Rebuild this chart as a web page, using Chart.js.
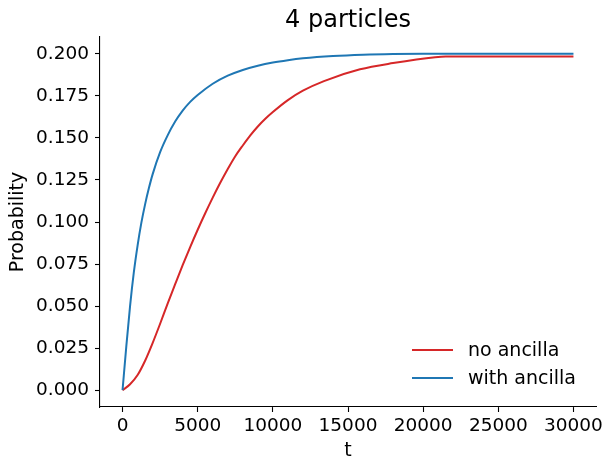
<html>
<head>
    <title>4 particles</title>
    <style>
        body { margin: 0; background: #fff; }
        #wrap { width: 614px; height: 470px; }
    </style>
</head>
<body>

<script src="https://cdn.jsdelivr.net/npm/chart.js@4.4.1/dist/chart.umd.min.js"></script>

<div id="wrap"><canvas id="particles"></canvas></div>

<script>
    // values
    const t_no_ancilla = [0, 500, 1000, 1500, 2000, 2500, 3000, 3500, 4000, 4500, 5000, 5500, 6000, 6500,
        7000, 7500, 8000, 8500, 9000, 9500, 10000, 11000, 12000, 13400, 15800, 18000, 20800, 21500, 30000];
    const p_no_ancilla = [0, 0.0035, 0.009, 0.0175, 0.028, 0.0395, 0.0515, 0.063, 0.0743, 0.0851, 0.0954, 0.1052, 0.1145, 0.1233,
        0.1315, 0.1391, 0.1455, 0.1515, 0.1568, 0.1614, 0.1654, 0.1725, 0.1781, 0.1838, 0.1908, 0.1945, 0.198, 0.1984, 0.1984];

    const t_with_ancilla = [0, 250, 500, 750, 1000, 1250, 1500, 1750, 2000, 2500, 3000, 3500, 4000, 4500,
        5000, 6000, 7000, 8000, 9000, 10000, 11000, 12000, 14000, 16000, 18000, 20000, 30000];
    const p_with_ancilla = [0, 0.026, 0.050, 0.070, 0.086, 0.0995, 0.1105, 0.120, 0.1283, 0.1415, 0.1515, 0.1597, 0.1662, 0.1714,
        0.1755, 0.1822, 0.187, 0.1904, 0.1929, 0.1948, 0.1962, 0.1973, 0.1987, 0.1995, 0.1999, 0.2, 0.2];

    const x_ticks = [0, 5000, 10000, 15000, 20000, 25000, 30000];
    const y_ticks = [0, 0.025, 0.05, 0.075, 0.1, 0.125, 0.15, 0.175, 0.2];

    const FONT = "'DejaVu Sans', sans-serif";

    function pairs(xs, ys) {
        return xs.map((x, i) => ({x: x, y: ys[i]}));
    }

    // matplotlib style legend, bottom right, no frame
    const legend_plugin = {
        id: 'mpl_legend',
        afterDraw(chart) {
            const ctx = chart.ctx;
            const area = chart.chartArea;
            const sets = chart.data.datasets;
            ctx.save();
            ctx.font = '19px ' + FONT;
            ctx.textBaseline = 'middle';
            ctx.textAlign = 'left';
            for (let i = 0; i < sets.length; i++) {
                const y = area.bottom - 57 + i * 28;
                ctx.strokeStyle = sets[i].borderColor;
                ctx.lineWidth = 2;
                ctx.beginPath();
                ctx.moveTo(area.right - 184, y);
                ctx.lineTo(area.right - 143, y);
                ctx.stroke();
                ctx.fillStyle = '#000';
                ctx.fillText(sets[i].label, area.right - 128, y + 1);
            }
            ctx.restore();
        }
    };

    const chart = new Chart(document.getElementById('particles'), {
        type: 'line',
        data: {
            datasets: [
                {
                    label: 'no ancilla',
                    data: pairs(t_no_ancilla, p_no_ancilla),
                    borderColor: '#d62728',
                    borderWidth: 2,
                    pointRadius: 0,
                    cubicInterpolationMode: 'monotone',
                    order: 1
                },
                {
                    label: 'with ancilla',
                    data: pairs(t_with_ancilla, p_with_ancilla),
                    borderColor: '#1f77b4',
                    borderWidth: 2,
                    pointRadius: 0,
                    cubicInterpolationMode: 'monotone',
                    order: 0
                }
            ]
        },
        options: {
            responsive: true,
            maintainAspectRatio: false,
            animation: false,
            layout: {padding: {left: 0, right: 18, top: 0, bottom: 0}},
            plugins: {
                legend: {display: false},
                tooltip: {enabled: false},
                title: {
                    display: true,
                    text: '4 particles',
                    fullSize: false,
                    color: '#000',
                    font: {family: FONT, size: 24, weight: 'normal'},
                    padding: {top: 6.4, bottom: 1.8}
                }
            },
            scales: {
                x: {
                    type: 'linear',
                    min: -1500,
                    max: 31500,
                    afterBuildTicks: axis => { axis.ticks = x_ticks.map(v => ({value: v})); },
                    afterFit: axis => { axis.height = 63; },
                    border: {display: true, color: '#000', width: 1.1},
                    grid: {drawOnChartArea: false, drawTicks: true, tickLength: 5, tickColor: '#000', tickWidth: 1.1},
                    ticks: {
                        color: '#000',
                        font: {family: FONT, size: 18.5},
                        padding: 3,
                        maxRotation: 0,
                        callback: v => String(v)
                    },
                    title: {
                        display: true,
                        text: 't',
                        color: '#000',
                        font: {family: FONT, size: 19},
                        padding: {top: 0, bottom: 7.6}
                    }
                },
                y: {
                    min: -0.01,
                    max: 0.21,
                    afterBuildTicks: axis => { axis.ticks = y_ticks.map(v => ({value: v})); },
                    afterFit: axis => { axis.width = 100; },
                    border: {display: true, color: '#000', width: 1.1},
                    grid: {drawOnChartArea: false, drawTicks: true, tickLength: 5, tickColor: '#000', tickWidth: 1.1},
                    ticks: {
                        color: '#000',
                        font: {family: FONT, size: 18.5},
                        padding: 6,
                        callback: v => Number(v).toFixed(3)
                    },
                    title: {
                        display: true,
                        text: 'Probability',
                        color: '#000',
                        font: {family: FONT, size: 19},
                        padding: {top: 7, bottom: 0}
                    }
                }
            }
        },
        plugins: [legend_plugin]
    });
</script>

</body>
</html>
